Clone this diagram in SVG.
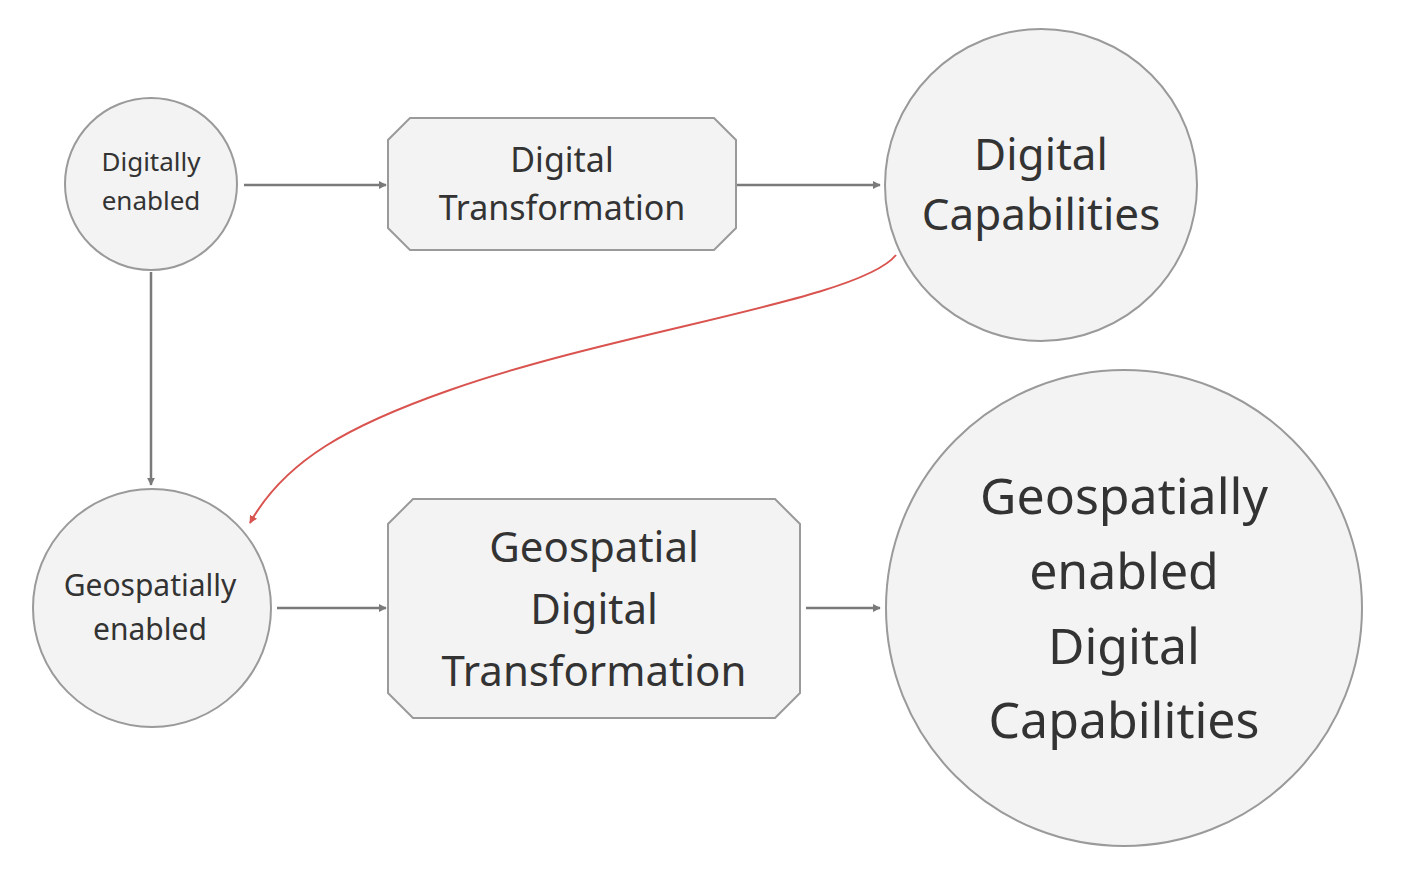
<svg xmlns="http://www.w3.org/2000/svg" width="1412" height="870" viewBox="0 0 1412 870">
<style>
.n{fill:#f3f3f3;stroke:#9a9a9a;stroke-width:2}
.t{font-family:"Noto Sans","Open Sans",sans-serif;fill:#333;text-anchor:middle}
.c{stroke:#7a7a7a;stroke-width:2.5;fill:none}
</style>
<defs>
<marker id="a" viewBox="0 0 10 10" refX="9" refY="5" markerWidth="8" markerHeight="8" markerUnits="userSpaceOnUse" orient="auto"><path d="M0,0L10,5L0,10z" fill="#7a7a7a"/></marker>
<marker id="r" viewBox="0 0 10 10" refX="9" refY="5" markerWidth="8" markerHeight="8" markerUnits="userSpaceOnUse" orient="auto"><path d="M0,0L10,5L0,10z" fill="#d9534f"/></marker>
</defs>
<rect width="1412" height="870" fill="#fff"/>
<g id="connectors">
<path class="c" d="M244,185H386" marker-end="url(#a)" style="marker-end:url(#a)"/>
<path class="c" d="M736,185H880" style="marker-end:url(#a)"/>
<path class="c" d="M151,272V485" style="marker-end:url(#a)"/>
<path class="c" d="M277,608H386" style="marker-end:url(#a)"/>
<path class="c" d="M806,608H880" style="marker-end:url(#a)"/>
<path d="M896,255C860,300 620,330 450,390C350,425 285,460 250,523" fill="none" stroke="#d9534f" stroke-width="2" style="marker-end:url(#r)"/>
</g>
<g id="digitally-enabled"><circle class="n" cx="151" cy="184" r="86"/>
<text class="t" font-size="26" x="151" y="171">Digitally</text><text class="t" font-size="26" x="151" y="210">enabled</text></g>
<g id="digital-transformation"><path class="n" d="M410,118H714L736,140V228L714,250H410L388,228V140Z"/>
<text class="t" font-size="34" x="562" y="172">Digital</text><text class="t" font-size="34" x="562" y="220">Transformation</text></g>
<g id="digital-capabilities"><circle class="n" cx="1041" cy="185" r="156"/>
<text class="t" font-size="44" x="1041" y="170">Digital</text><text class="t" font-size="44" x="1041" y="230">Capabilities</text></g>
<g id="geospatially-enabled"><circle class="n" cx="152" cy="608" r="119"/>
<text class="t" font-size="30" x="150" y="596">Geospatially</text><text class="t" font-size="30" x="150" y="640">enabled</text></g>
<g id="geospatial-digital-transformation"><path class="n" d="M413,499H775L800,524V693L775,718H413L388,693V524Z"/>
<text class="t" font-size="42" x="594" y="562">Geospatial</text><text class="t" font-size="42" x="594" y="624">Digital</text><text class="t" font-size="42" x="594" y="686">Transformation</text></g>
<g id="geospatially-enabled-digital-capabilities"><circle class="n" cx="1124" cy="608" r="238"/>
<text class="t" font-size="50" x="1124" y="514">Geospatially</text><text class="t" font-size="50" x="1124" y="589">enabled</text><text class="t" font-size="50" x="1124" y="664">Digital</text><text class="t" font-size="50" x="1124" y="738">Capabilities</text></g>
</svg>
